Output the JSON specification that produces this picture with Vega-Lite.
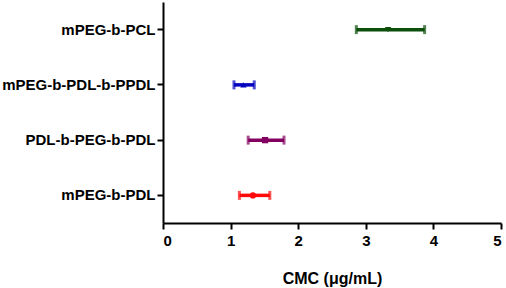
{
  "$schema": "https://vega.github.io/schema/vega-lite/v6.json",
  "width": 338,
  "height": 221,
  "autosize": "none",
  "padding": {"left": 163, "top": 2, "right": 5, "bottom": 65},
  "background": "white",
  "config": {
    "view": {"stroke": null},
    "font": "Liberation Sans",
    "axis": {
      "domainColor": "black",
      "domainWidth": 2,
      "tickColor": "black",
      "tickWidth": 2,
      "tickSize": 6,
      "grid": false,
      "labelFont": "Liberation Sans",
      "labelFontWeight": "bold",
      "labelFontSize": 15,
      "labelColor": "black",
      "titleFont": "Liberation Sans",
      "titleFontWeight": "bold",
      "titleFontSize": 16,
      "titleColor": "black"
    }
  },
  "data": {
    "values": [
      {"name": "mPEG-b-PCL", "mean": 3.33, "low": 2.86, "high": 3.87},
      {"name": "mPEG-b-PDL-b-PPDL", "mean": 1.19, "low": 1.05, "high": 1.35},
      {"name": "PDL-b-PEG-b-PDL", "mean": 1.51, "low": 1.26, "high": 1.79},
      {"name": "mPEG-b-PDL", "mean": 1.33, "low": 1.13, "high": 1.58}
    ]
  },
  "encoding": {
    "y": {
      "field": "name",
      "type": "nominal",
      "sort": ["mPEG-b-PCL", "mPEG-b-PDL-b-PPDL", "PDL-b-PEG-b-PDL", "mPEG-b-PDL"],
      "scale": {"paddingInner": 0, "paddingOuter": 0},
      "axis": {"title": null, "labelPadding": 2}
    },
    "color": {
      "field": "name",
      "type": "nominal",
      "scale": {
        "domain": ["mPEG-b-PCL", "mPEG-b-PDL-b-PPDL", "PDL-b-PEG-b-PDL", "mPEG-b-PDL"],
        "range": ["#0b4f0b", "#0505c0", "#820060", "#ff0a0a"]
      },
      "legend": null
    }
  },
  "layer": [
    {
      "mark": {"type": "rule", "strokeWidth": 3.5},
      "encoding": {
        "x": {
          "field": "low",
          "type": "quantitative",
          "scale": {"domain": [0, 5], "nice": false},
          "axis": {"title": "CMC (μg/mL)", "values": [0, 1, 2, 3, 4, 5], "format": "d", "labelPadding": 4, "titlePadding": 22}
        },
        "x2": {"field": "high"}
      }
    },
    {
      "mark": {"type": "tick", "orient": "vertical", "size": 9, "thickness": 3},
      "encoding": {"x": {"field": "low", "type": "quantitative"}}
    },
    {
      "mark": {"type": "tick", "orient": "vertical", "size": 9, "thickness": 3},
      "encoding": {"x": {"field": "high", "type": "quantitative"}}
    },
    {
      "mark": {"type": "point", "filled": true, "opacity": 1, "size": 40},
      "encoding": {
        "x": {"field": "mean", "type": "quantitative"},
        "shape": {
          "field": "name",
          "type": "nominal",
          "scale": {
            "domain": ["mPEG-b-PCL", "mPEG-b-PDL-b-PPDL", "PDL-b-PEG-b-PDL", "mPEG-b-PDL"],
            "range": ["triangle-down", "triangle-up", "square", "circle"]
          },
          "legend": null
        }
      }
    }
  ]
}
